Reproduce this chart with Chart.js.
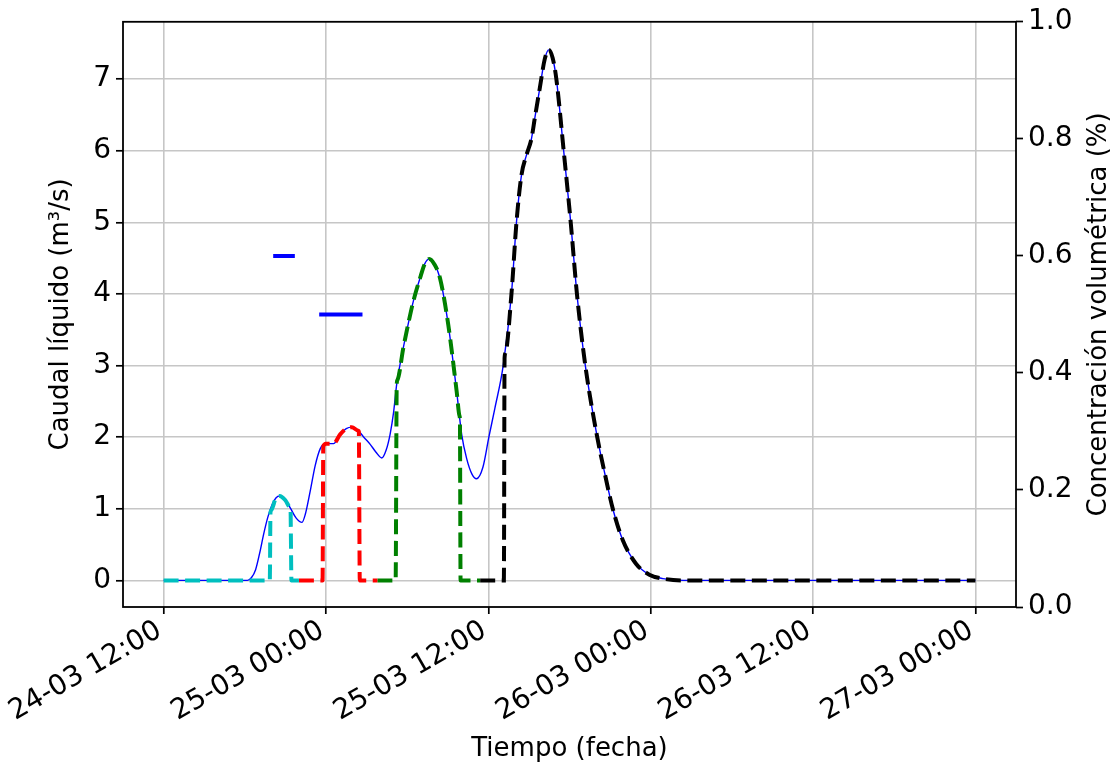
<!DOCTYPE html>
<html>
<head>
<meta charset="utf-8">
<title>Caudal y concentración</title>
<script src="https://cdn.jsdelivr.net/npm/chart.js@4/dist/chart.umd.min.js"></script>
<style>
  body { margin: 0; background: #fff; }
  #chart { display: block; }
</style>
</head>
<body>
<canvas id="chart" width="1114" height="767"></canvas>
<script>
// Time is in hours since 24-03 12:00

// Hydrograph (thin blue line)
const flowT = [0, 6.2, 6.5, 6.8, 7.1, 7.4, 7.7, 8.0, 8.3, 8.58, 9.0, 9.37, 9.8, 10.23, 10.47, 10.84, 11.2, 11.58, 11.95,
    12.56, 13.05, 13.5, 13.91, 14.4, 14.8, 15.27, 15.7, 16.13, 16.45, 16.74, 17.0, 17.23, 17.72, 18.1, 18.46,
    19.0, 19.3, 19.64, 20.0, 20.43, 21.04, 21.66, 22.03, 22.4, 22.8, 23.13, 23.6, 24.04, 24.48, 25.1, 25.71,
    26.08, 26.45, 26.82, 27.19, 27.43, 27.8, 28.17, 28.47, 28.75, 29.03, 29.57, 30.09, 30.55, 31.17, 32.05, 32.6,
    33.2, 33.94, 34.93, 35.9, 36.9, 38.4, 60];
const flowQ = [0, 0, 0.04, 0.15, 0.38, 0.65, 0.88, 1.05, 1.15, 1.18, 1.12, 1.01, 0.87, 0.81, 0.92, 1.25, 1.6, 1.84, 1.91,
    1.91, 2.04, 2.12, 2.14, 2.09, 2.0, 1.9, 1.79, 1.71, 1.82, 2.04, 2.35, 2.74, 3.25, 3.6, 3.9,
    4.25, 4.42, 4.49, 4.42, 4.22, 3.57, 2.64, 2.04, 1.7, 1.48, 1.42, 1.58, 2.0, 2.4, 3.0, 4.0,
    5.0, 5.66, 5.94, 6.17, 6.45, 6.87, 7.28, 7.41, 7.3, 7.0, 6.0, 5.0, 4.0, 3.0, 2.0, 1.5,
    1.0, 0.56, 0.23, 0.08, 0.025, 0, 0];

// Dashed pieces of the hydrograph
const cyanT = [0, 7.85, 7.9, 7.95, 8.3, 8.58, 9.0, 9.35, 9.38, 9.45, 10.0];
const cyanQ = [0, 0, 0.95, 0.98, 1.15, 1.18, 1.12, 1.02, 1.01, 0, 0];

const redT = [10.0, 11.75, 11.8, 11.85, 11.95, 12.56, 13.05, 13.5, 13.91, 14.4, 14.43, 14.5, 15.8];
const redQ = [0, 0, 1.86, 1.89, 1.91, 1.91, 2.04, 2.12, 2.14, 2.09, 2.08, 0, 0];

const greenT = [15.8, 17.15, 17.23, 17.28, 17.72, 18.1, 18.46, 19.0, 19.3, 19.64, 20.0, 20.43, 21.04, 21.66, 21.87, 21.9, 21.95, 23.4];
const greenQ = [0, 0, 2.74, 2.8, 3.25, 3.6, 3.9, 4.25, 4.42, 4.49, 4.42, 4.22, 3.57, 2.64, 2.3, 2.25, 0, 0];

const blackT = [23.4, 25.15, 25.2, 25.25, 25.71, 26.08, 26.45, 26.82, 27.19, 27.43, 27.8, 28.17, 28.47, 28.75, 29.03, 29.57,
    30.09, 30.55, 31.17, 32.05, 32.6, 33.2, 33.94, 34.93, 35.9, 36.9, 38.4, 60];
const blackQ = [0, 0, 3.1, 3.17, 4.0, 5.0, 5.66, 5.94, 6.17, 6.45, 6.87, 7.28, 7.41, 7.3, 7.0, 6.0,
    5.0, 4.0, 3.0, 2.0, 1.5, 1.0, 0.56, 0.23, 0.08, 0.025, 0, 0];

// Volumetric concentration (right axis)
const conc1T = [8.1, 9.7];
const conc1C = [0.6, 0.6];
const conc2T = [11.5, 14.7];
const conc2C = [0.5, 0.5];

// Axis ticks
const xTickHours = [0, 12, 24, 36, 48, 60];
const xTickLabels = ['24-03 12:00', '25-03 00:00', '25-03 12:00', '26-03 00:00', '26-03 12:00', '27-03 00:00'];
const yTicks = [0, 1, 2, 3, 4, 5, 6, 7];
const y2Ticks = [0, 0.2, 0.4, 0.6, 0.8, 1.0];

const FONT = 'DejaVu Sans';
const TICK_SIZE = 28;
const LABEL_SIZE = 26;
const DASH = [15, 6.5];

function toPoints(ts, vs) {
    return ts.map(function(t, i) { return { x: t, y: vs[i] }; });
}

function lineSet(ts, vs, color, width, dash, axis, order) {
    return {
        data: toPoints(ts, vs),
        borderColor: color,
        borderWidth: width,
        borderDash: dash,
        borderCapStyle: 'butt',
        pointRadius: 0,
        fill: false,
        cubicInterpolationMode: 'monotone',
        yAxisID: axis,
        order: order
    };
}

// Box around the plot area and the right-hand axis title
const framePlugin = {
    id: 'frame',
    afterDraw: function(chart) {
        const ctx = chart.ctx;
        const a = chart.chartArea;
        ctx.save();
        ctx.strokeStyle = '#000';
        ctx.lineWidth = 1.8;
        ctx.strokeRect(a.left, a.top, a.right - a.left, a.bottom - a.top);

        ctx.fillStyle = '#000';
        ctx.font = LABEL_SIZE + 'px "' + FONT + '"';
        ctx.textAlign = 'center';
        ctx.textBaseline = 'middle';
        ctx.translate(chart.width - 15, (a.top + a.bottom) / 2);
        ctx.rotate(-Math.PI / 2);
        ctx.fillText('Concentración volumétrica (%)', 0, 0);
        ctx.restore();
    }
};

const canvas = document.getElementById('chart');

new Chart(canvas, {
    type: 'line',
    data: {
        datasets: [
            lineSet(flowT, flowQ, '#0000ff', 1.4, [], 'y', 10),
            lineSet(cyanT, cyanQ, '#00bfbf', 4, DASH, 'y', 5),
            lineSet(redT, redQ, '#ff0000', 4, DASH, 'y', 5),
            lineSet(greenT, greenQ, '#008000', 4, DASH, 'y', 5),
            lineSet(blackT, blackQ, '#000000', 4, DASH, 'y', 4),
            lineSet(conc1T, conc1C, '#0000ff', 4, [], 'y1', 3),
            lineSet(conc2T, conc2C, '#0000ff', 4, [], 'y1', 3)
        ]
    },
    options: {
        responsive: false,
        animation: false,
        layout: { padding: { top: 18, left: 0, right: 0, bottom: 0 } },
        plugins: {
            legend: { display: false },
            tooltip: { enabled: false }
        },
        scales: {
            x: {
                type: 'linear',
                min: -3,
                max: 63,
                afterBuildTicks: function(scale) {
                    scale.ticks = xTickHours.map(function(v) { return { value: v }; });
                },
                afterFit: function(scale) { scale.height = 160; },
                border: { display: false },
                grid: {
                    color: '#c6c6c6',
                    lineWidth: 1.6,
                    tickColor: '#000',
                    tickLength: 7,
                    tickWidth: 1.7
                },
                ticks: {
                    autoSkip: false,
                    minRotation: 30,
                    maxRotation: 30,
                    padding: 0,
                    labelOffset: -4,
                    color: '#000',
                    font: { family: FONT, size: TICK_SIZE },
                    callback: function(value) {
                        const i = xTickHours.indexOf(value);
                        return i >= 0 ? xTickLabels[i] : '';
                    }
                },
                title: {
                    display: true,
                    text: 'Tiempo (fecha)',
                    color: '#000',
                    font: { family: FONT, size: LABEL_SIZE },
                    padding: { top: 0, bottom: 2 }
                }
            },
            y: {
                position: 'left',
                min: -0.3715,
                max: 7.8015,
                afterBuildTicks: function(scale) {
                    scale.ticks = yTicks.map(function(v) { return { value: v }; });
                },
                afterFit: function(scale) { scale.width = 123; },
                border: { display: false },
                grid: {
                    color: '#c6c6c6',
                    lineWidth: 1.6,
                    tickColor: '#000',
                    tickLength: 7,
                    tickWidth: 1.7
                },
                ticks: {
                    padding: 5,
                    color: '#000',
                    font: { family: FONT, size: TICK_SIZE }
                },
                title: {
                    display: true,
                    text: 'Caudal líquido (m³/s)',
                    color: '#000',
                    font: { family: FONT, size: LABEL_SIZE },
                    padding: { top: 46, bottom: 0 }
                }
            },
            y1: {
                position: 'right',
                min: 0,
                max: 1,
                afterBuildTicks: function(scale) {
                    scale.ticks = y2Ticks.map(function(v) { return { value: v }; });
                },
                afterFit: function(scale) { scale.width = 98; },
                border: { display: false },
                grid: {
                    drawOnChartArea: false,
                    tickColor: '#000',
                    tickLength: 7,
                    tickWidth: 1.7
                },
                ticks: {
                    padding: 5,
                    color: '#000',
                    font: { family: FONT, size: TICK_SIZE },
                    callback: function(value) { return value.toFixed(1); }
                }
            }
        }
    },
    plugins: [framePlugin]
});
</script>
</body>
</html>
